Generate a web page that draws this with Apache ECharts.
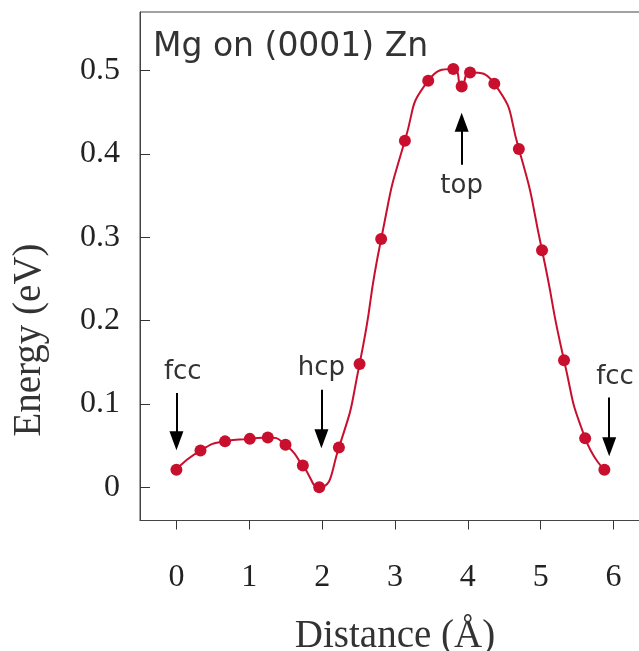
<!DOCTYPE html>
<html>
<head>
<meta charset="utf-8">
<script src="https://cdn.jsdelivr.net/npm/echarts@6/dist/echarts.min.js"></script>
<style>
html,body{margin:0;padding:0;background:#fff;}
#chart{width:639px;height:651px;}
</style>
</head>
<body>
<div id="chart"></div>
<script>
// ---- data ----
const distance = [0, 0.33, 0.667, 1.007, 1.254, 1.497, 1.735, 1.96, 2.23, 2.514, 2.81, 3.136, 3.456, 3.80, 3.915, 4.03, 4.363, 4.70, 5.018, 5.32, 5.61, 5.874];
const energy   = [0.021, 0.044, 0.055, 0.058, 0.0596, 0.051, 0.026, 0.0, 0.0476, 0.148, 0.298, 0.416, 0.488, 0.502, 0.481, 0.498, 0.4845, 0.406, 0.2845, 0.1525, 0.0588, 0.0208];
const xTicks = [0, 1, 2, 3, 4, 5, 6];
const yTicks = [0, 0.1, 0.2, 0.3, 0.4, 0.5];
const titleText = 'Mg on (0001) Zn';
const xName = 'Distance (Å)';
const yName = 'Energy (eV)';
// annotation arrows: [x, yStart, yEnd]
const arrows = [[0, 0.113, 0.0556], [1.99, 0.117, 0.058], [5.94, 0.1076, 0.0484], [3.915, 0.387, 0.438]];
// annotation labels: [x, y, text]
const notes = [[0.087, 0.138, 'fcc'], [1.99, 0.143, 'hcp'], [6.02, 0.1325, 'fcc'], [3.915, 0.3617, 'top']];

const seriesData = distance.map((d, i) => [d, energy[i]]);
const red = '#c8102e';
const serif = '"Liberation Serif", "Times New Roman", serif';
const sans = '"DejaVu Sans", sans-serif';

const chart = echarts.init(document.getElementById('chart'), null, {renderer: 'canvas'});
chart.setOption({
  animation: false,
  backgroundColor: '#fff',
  title: {
    text: titleText, left: 148, top: 26,
    textStyle: {fontFamily: sans, fontSize: 33, fontWeight: 'normal', color: '#333'}
  },
  grid: {
    left: 140, top: 12, width: 510, height: 508.5,
    outerBoundsMode: 'none', containLabel: false,
    show: true, borderColor: '#444', borderWidth: 1
  },
  xAxis: {
    type: 'value', min: -0.5, max: 6.5,
    name: xName, nameLocation: 'middle', nameGap: 97,
    nameTextStyle: {fontFamily: serif, fontSize: 39, color: '#333'},
    axisLine: {show: true, onZero: false, lineStyle: {color: '#444', width: 1}},
    axisTick: {show: true, inside: false, length: 9, customValues: xTicks, lineStyle: {color: '#333'}},
    axisLabel: {customValues: xTicks, margin: 41, fontFamily: serif, fontSize: 32, color: '#222'},
    splitLine: {show: false}
  },
  yAxis: {
    type: 'value', min: -0.04, max: 0.5705,
    axisLine: {show: true, onZero: false, lineStyle: {color: '#444', width: 1}},
    axisTick: {show: true, inside: true, length: 10, customValues: yTicks, lineStyle: {color: '#333'}},
    axisLabel: {customValues: yTicks, margin: 20, fontFamily: serif, fontSize: 32, color: '#222'},
    splitLine: {show: false}
  },
  graphic: [{
    type: 'text', x: 30, y: 340, rotation: Math.PI / 2,
    style: {text: yName, font: '39px ' + serif, fill: '#333', textAlign: 'center', textVerticalAlign: 'middle'}
  }],
  series: [{
    type: 'line',
    data: seriesData,
    smooth: 0.6,
    symbol: 'circle', symbolSize: 12,
    lineStyle: {color: red, width: 2},
    itemStyle: {color: red},
    z: 3,
    markLine: {
      silent: true,
      symbol: ['none', 'triangle'],
      symbolSize: [14, 19],
      lineStyle: {color: '#000', width: 2, type: 'solid'},
      label: {show: false},
      emphasis: {disabled: true},
      data: arrows.map(a => [{coord: [a[0], a[1]]}, {coord: [a[0], a[2]]}])
    },
    markPoint: {
      silent: true,
      symbol: 'circle', symbolSize: 0,
      label: {show: true, position: 'inside', fontFamily: sans, fontSize: 26, color: '#333',
        formatter: p => p.name},
      data: notes.map(n => ({name: n[2], coord: [n[0], n[1]]}))
    }
  }]
});
</script>
</body>
</html>
